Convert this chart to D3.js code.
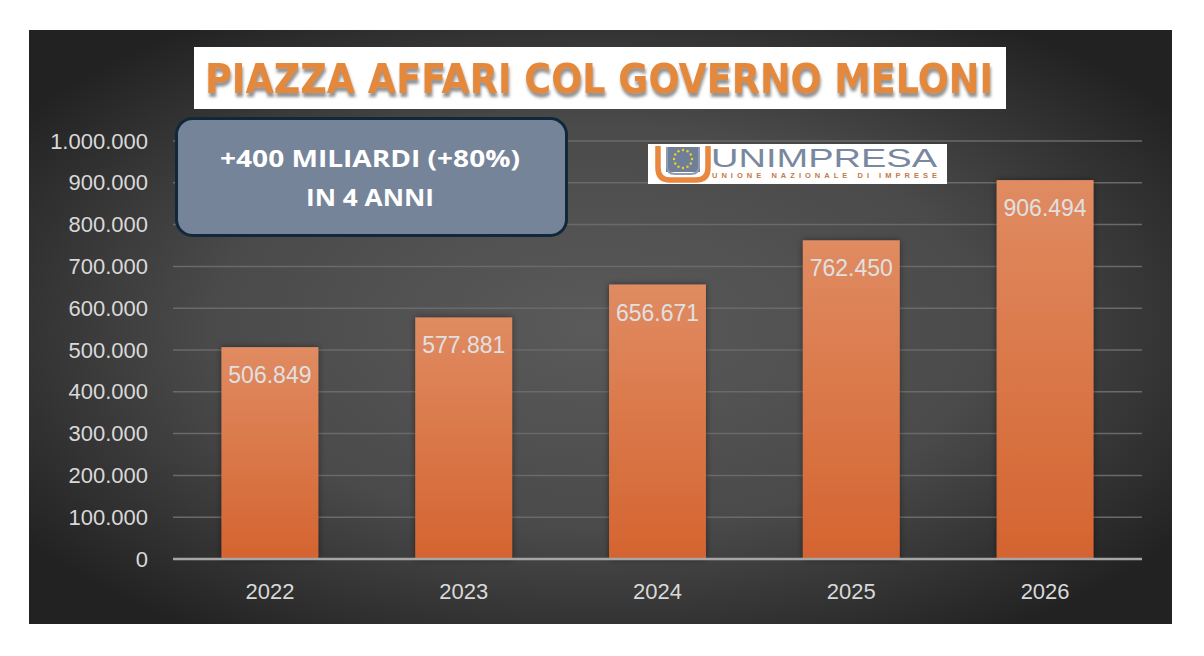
<!DOCTYPE html>
<html>
<head>
<meta charset="utf-8">
<script src="https://cdn.jsdelivr.net/npm/d3@7/dist/d3.min.js"></script>
<style>
html,body{margin:0;padding:0;background:#fff;}
svg{display:block;}
</style>
</head>
<body>
<svg id="chart" width="1204" height="656"></svg>
<script>
const categories = ["2022", "2023", "2024", "2025", "2026"];
const values = [506849, 577881, 656671, 762450, 906494];
const yTicks = [0, 100000, 200000, 300000, 400000, 500000, 600000, 700000, 800000, 900000, 1000000];
const titleText = "PIAZZA AFFARI COL GOVERNO MELONI";
const noteLines = ["+400 MILIARDI (+80%)", "IN 4 ANNI"];
const logoName = "UNIMPRESA";
const logoSub = "UNIONE NAZIONALE DI IMPRESE";

const svg = d3.select("#chart");
const defs = svg.append("defs");

// background radial gradient
const bg = defs.append("radialGradient").attr("id","bg")
  .attr("cx","50%").attr("cy","50%").attr("r","62%");
bg.append("stop").attr("offset","0%").attr("stop-color","#5a5a5a");
bg.append("stop").attr("offset","55%").attr("stop-color","#4a4a4a");
bg.append("stop").attr("offset","100%").attr("stop-color","#222222");

const barGrad = defs.append("linearGradient").attr("id","barg")
  .attr("x1","0").attr("y1","0").attr("x2","0").attr("y2","1");
barGrad.append("stop").attr("offset","0%").attr("stop-color","#e08b62");
barGrad.append("stop").attr("offset","100%").attr("stop-color","#d46430");

const sh = defs.append("filter").attr("id","barShadow")
  .attr("x","-20%").attr("y","-10%").attr("width","140%").attr("height","120%");
sh.append("feDropShadow").attr("dx",0).attr("dy",0).attr("stdDeviation",3)
  .attr("flood-color","#000").attr("flood-opacity",0.45);

const tsh = defs.append("filter").attr("id","titleShadow")
  .attr("x","-5%").attr("y","-30%").attr("width","110%").attr("height","180%");
tsh.append("feDropShadow").attr("dx",1).attr("dy",4).attr("stdDeviation",1.6)
  .attr("flood-color","#777").attr("flood-opacity",0.8);

// panel
svg.append("rect").attr("x",29).attr("y",30).attr("width",1143).attr("height",594)
  .attr("fill","url(#bg)");

// scales
const x = d3.scaleBand().domain(categories).range([173, 1142]).paddingInner(0.5).paddingOuter(0.25);
const y = d3.scaleLinear().domain([0, 1000000]).range([559, 141]);

const fmt = v => d3.format(",")(v).replace(/,/g, ".");

// gridlines
svg.append("g").selectAll("line").data(yTicks.filter(d => d > 0)).join("line")
  .attr("x1",173).attr("x2",1142)
  .attr("y1",d => y(d)).attr("y2",d => y(d))
  .attr("stroke","#6a6a6a").attr("stroke-width",1.5);

// y axis labels
const yAxis = d3.axisLeft(y).tickValues(yTicks).tickFormat(fmt).tickSize(0).tickPadding(0);
const ya = svg.append("g").attr("transform","translate(148,0)").call(yAxis);
ya.select(".domain").remove();
ya.selectAll("text").attr("fill","#d9d9d9")
  .style("font-family","'Liberation Sans', Arial, sans-serif").style("font-size","22px");

// bars
svg.append("g").selectAll("rect").data(values).join("rect")
  .attr("x",(d,i) => x(categories[i]))
  .attr("width",x.bandwidth())
  .attr("y",d => y(d))
  .attr("height",d => y(0) - y(d))
  .attr("fill","url(#barg)")
  .attr("filter","url(#barShadow)");

// value labels
svg.append("g").selectAll("text").data(values).join("text")
  .attr("x",(d,i) => x(categories[i]) + x.bandwidth()/2)
  .attr("y",d => y(d) + 36)
  .attr("text-anchor","middle")
  .attr("fill","#e0e0e0")
  .style("font-family","'Liberation Sans', Arial, sans-serif").style("font-size","23px")
  .text(d => fmt(d));

// zero line
svg.append("line").attr("x1",173).attr("x2",1142).attr("y1",y(0)).attr("y2",y(0))
  .attr("stroke","#a6a6a6").attr("stroke-width",2.5);

// x axis labels
const xAxis = d3.axisBottom(x).tickSize(0).tickPadding(0);
const xa = svg.append("g").attr("transform","translate(0,583)").call(xAxis);
xa.select(".domain").remove();
xa.selectAll("text").attr("fill","#d9d9d9").attr("dy","0.71em")
  .style("font-family","'Liberation Sans', Arial, sans-serif").style("font-size","22px");

// title box
svg.append("rect").attr("x",194).attr("y",47).attr("width",812).attr("height",62).attr("fill","#ffffff");
svg.append("text").attr("x",205).attr("y",93)
  .attr("textLength",788).attr("lengthAdjust","spacingAndGlyphs")
  .attr("fill","#e4893a").attr("filter","url(#titleShadow)")
  .style("font-family","'Liberation Sans Narrow','DejaVu Sans Condensed', 'Liberation Sans', sans-serif")
  .style("font-weight","bold").style("font-size","41px")
  .text(titleText);

// annotation box
svg.append("rect").attr("x",176.5).attr("y",118.5).attr("width",390).attr("height",117)
  .attr("rx",16).attr("ry",16)
  .attr("fill","#758499").attr("stroke","#10283a").attr("stroke-width",3);
svg.append("g").selectAll("text").data(noteLines).join("text")
  .attr("x",370).attr("y",(d,i) => i === 0 ? 167 : 206)
  .attr("text-anchor","middle")
  .attr("textLength",(d,i) => i === 0 ? 300 : 128).attr("lengthAdjust","spacingAndGlyphs")
  .attr("fill","#ffffff")
  .style("font-family","'Open Sans', 'Liberation Sans', sans-serif")
  .style("font-weight","bold").style("font-size","24px")
  .text(d => d);

// logo
const logo = svg.append("g");
logo.append("rect").attr("x",648).attr("y",144).attr("width",299).attr("height",40).attr("fill","#ffffff");
logo.append("rect").attr("x",666).attr("y",147).attr("width",34).attr("height",25).attr("fill","#6f7f98");
logo.append("path")
  .attr("d","M667,147 V166 Q667,174 675,174 H691 Q699,174 699,166 V147")
  .attr("fill","none").attr("stroke","#8f9bb0").attr("stroke-width",2);
logo.append("path")
  .attr("d","M658,146 V168 Q658,180 670,180 H696 Q708,180 708,168 V146")
  .attr("fill","none").attr("stroke","#e8873d").attr("stroke-width",5.5);
const stars = d3.range(12);
logo.selectAll("circle").data(stars).join("circle")
  .attr("cx",d => 683 + 9*Math.cos(d*Math.PI/6))
  .attr("cy",d => 159 + 9*Math.sin(d*Math.PI/6))
  .attr("r",1.2).attr("fill","#f2d21b");
logo.append("text").attr("x",711).attr("y",166.5)
  .attr("textLength",226).attr("lengthAdjust","spacingAndGlyphs")
  .attr("fill","#7a889f")
  .style("font-family","'Liberation Sans', Arial, sans-serif").style("font-size","26px")
  .text(logoName);
logo.append("text").attr("x",712).attr("y",178)
  .attr("textLength",225).attr("lengthAdjust","spacing")
  .attr("fill","#c57a48")
  .style("font-family","'Liberation Sans', Arial, sans-serif").style("font-weight","bold").style("font-size","7.5px")
  .text(logoSub);
</script>
</body>
</html>
